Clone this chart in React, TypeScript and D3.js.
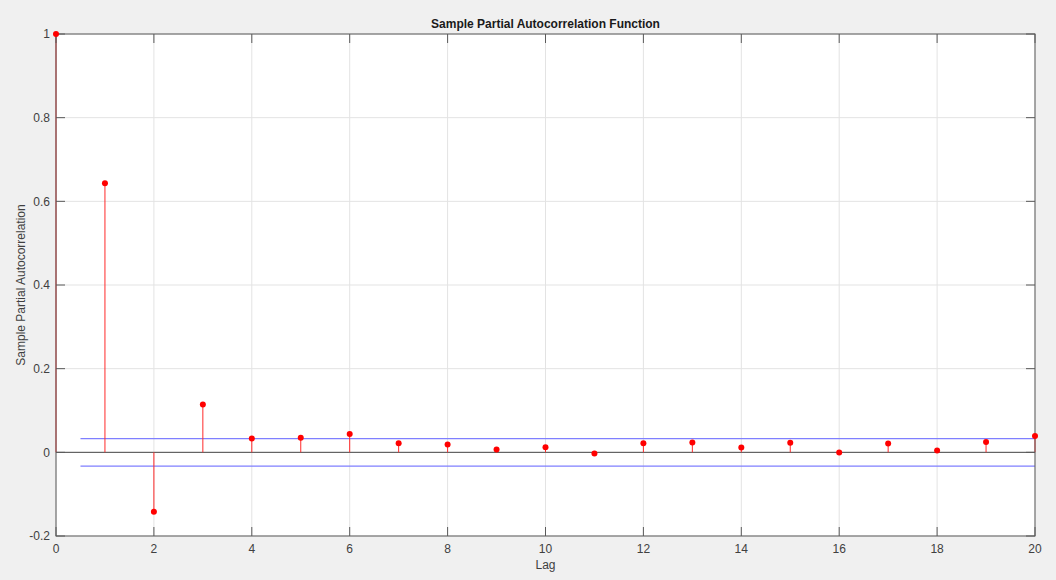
import { useEffect, useRef } from 'react'
import * as d3 from 'd3'

// Sample PACF values, lags 0..20
const LAGS = d3.range(0, 21)
const PACF = [
  1, 0.643, -0.142, 0.1145, 0.033, 0.035, 0.0436, 0.022, 0.0187, 0.0067,
  0.0124, -0.003, 0.022, 0.0235, 0.0115, 0.0228, -0.0004, 0.021, 0.0044, 0.025, 0.0388,
]
const BOUND = 0.0328
const BOUND_RANGE = [0.5, 20]
const X_TICKS = d3.range(0, 21, 2)
const Y_TICKS = [-0.2, 0, 0.2, 0.4, 0.6, 0.8, 1]

const W = 1056
const H = 580
const MARGIN = { top: 34, right: 21, bottom: 44, left: 56 }
const FONT = 'Liberation Sans, Arial, Helvetica, sans-serif'
const AXIS_COLOR = '#5a5a5a'
const TEXT_COLOR = '#404040'

export default function App() {
  const svgRef = useRef<SVGSVGElement | null>(null)

  useEffect(() => {
    if (!svgRef.current) return
    const svg = d3.select(svgRef.current)
    svg.selectAll('*').remove()

    const innerW = W - MARGIN.left - MARGIN.right
    const innerH = H - MARGIN.top - MARGIN.bottom

    const x = d3.scaleLinear().domain([0, 20]).range([0, innerW])
    const y = d3.scaleLinear().domain([-0.2, 1]).range([innerH, 0])

    // figure background
    svg.append('rect').attr('width', W).attr('height', H).attr('fill', '#f0f0f0')

    const g = svg.append('g').attr('transform', `translate(${MARGIN.left},${MARGIN.top})`)

    // plot area
    g.append('rect').attr('width', innerW).attr('height', innerH).attr('fill', '#ffffff')

    // ── Grid ───────────────────────────────────────────
    g.append('g')
      .selectAll('line.vg').data(X_TICKS).join('line')
      .attr('x1', (d) => x(d)).attr('x2', (d) => x(d))
      .attr('y1', 0).attr('y2', innerH)
      .attr('stroke', '#e3e3e3').attr('stroke-width', 1)
    g.append('g')
      .selectAll('line.hg').data(Y_TICKS).join('line')
      .attr('x1', 0).attr('x2', innerW)
      .attr('y1', (d) => y(d)).attr('y2', (d) => y(d))
      .attr('stroke', '#e3e3e3').attr('stroke-width', 1)

    // ── Confidence bounds ──────────────────────────────
    g.append('g')
      .selectAll('line').data([BOUND, -BOUND]).join('line')
      .attr('x1', x(BOUND_RANGE[0])).attr('x2', x(BOUND_RANGE[1]))
      .attr('y1', (d) => y(d)).attr('y2', (d) => y(d))
      .attr('stroke', '#7f7fff').attr('stroke-width', 1.2)

    // baseline
    g.append('line')
      .attr('x1', 0).attr('x2', innerW)
      .attr('y1', y(0)).attr('y2', y(0))
      .attr('stroke', '#4a4a4a').attr('stroke-width', 1)

    const data = LAGS.map((lag, i) => ({ lag, value: PACF[i] }))

    // stems
    g.append('g')
      .selectAll('line').data(data).join('line')
      .attr('x1', (d) => x(d.lag)).attr('x2', (d) => x(d.lag))
      .attr('y1', y(0)).attr('y2', (d) => y(d.value))
      .attr('stroke', '#ff2a2a').attr('stroke-width', 1)

    // ── Axes box + ticks ───────────────────────────────
    const tickLen = 9
    const axes = g.append('g').attr('stroke', AXIS_COLOR).attr('stroke-width', 1)
    axes.append('rect')
      .attr('width', innerW).attr('height', innerH)
      .attr('fill', 'none')
    axes.selectAll('line.xb').data(X_TICKS).join('line')
      .attr('x1', (d) => x(d)).attr('x2', (d) => x(d))
      .attr('y1', innerH).attr('y2', innerH - tickLen)
    axes.selectAll('line.xt').data(X_TICKS).join('line')
      .attr('x1', (d) => x(d)).attr('x2', (d) => x(d))
      .attr('y1', 0).attr('y2', tickLen)
    axes.selectAll('line.yl').data(Y_TICKS).join('line')
      .attr('x1', 0).attr('x2', tickLen)
      .attr('y1', (d) => y(d)).attr('y2', (d) => y(d))
    axes.selectAll('line.yr').data(Y_TICKS).join('line')
      .attr('x1', innerW).attr('x2', innerW - tickLen)
      .attr('y1', (d) => y(d)).attr('y2', (d) => y(d))

    // markers
    g.append('g')
      .selectAll('circle').data(data).join('circle')
      .attr('cx', (d) => x(d.lag)).attr('cy', (d) => y(d.value))
      .attr('r', 3).attr('fill', '#ff0000')

    // tick labels
    g.append('g')
      .selectAll('text').data(X_TICKS).join('text')
      .attr('x', (d) => x(d)).attr('y', innerH + 17)
      .attr('text-anchor', 'middle')
      .attr('font-family', FONT).attr('font-size', 12).attr('fill', TEXT_COLOR)
      .text((d) => d)
    g.append('g')
      .selectAll('text').data(Y_TICKS).join('text')
      .attr('x', -6).attr('y', (d) => y(d))
      .attr('dy', '0.35em')
      .attr('text-anchor', 'end')
      .attr('font-family', FONT).attr('font-size', 12).attr('fill', TEXT_COLOR)
      .text((d) => (d === 0 ? '0' : String(d)))

    // title and labels
    svg.append('text')
      .attr('x', MARGIN.left + innerW / 2).attr('y', 28)
      .attr('text-anchor', 'middle')
      .attr('font-family', FONT).attr('font-size', 12).attr('font-weight', 'bold')
      .attr('fill', '#1a1a1a')
      .text('Sample Partial Autocorrelation Function')
    svg.append('text')
      .attr('x', MARGIN.left + innerW / 2).attr('y', 569)
      .attr('text-anchor', 'middle')
      .attr('font-family', FONT).attr('font-size', 12).attr('fill', TEXT_COLOR)
      .text('Lag')
    svg.append('text')
      .attr('transform', `translate(25,${MARGIN.top + innerH / 2}) rotate(-90)`)
      .attr('text-anchor', 'middle')
      .attr('font-family', FONT).attr('font-size', 12).attr('fill', TEXT_COLOR)
      .text('Sample Partial Autocorrelation')
  }, [])

  return (
    <div style={{ position: 'fixed', left: 0, top: 0, width: W, height: H }}>
      <svg ref={svgRef} width={W} height={H} style={{ display: 'block' }} />
    </div>
  )
}
